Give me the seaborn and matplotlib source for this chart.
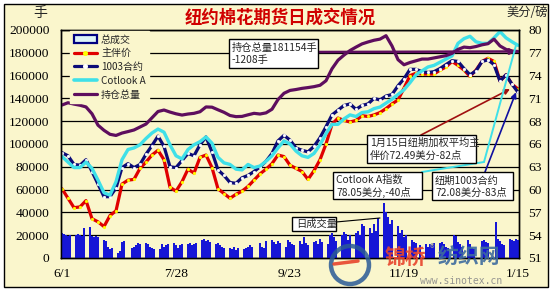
import numpy as np
import pandas as pd
import matplotlib
matplotlib.use("Agg")
import matplotlib.pyplot as plt
import seaborn as sns
from matplotlib.lines import Line2D
from matplotlib.patches import Rectangle, Patch, Circle

# ---------------- data ----------------
holidays = ["2009-07-03", "2009-09-07", "2009-11-26", "2009-12-25", "2010-01-01"]
trade_dates = pd.bdate_range("2009-06-01", "2010-01-15").difference(pd.to_datetime(holidays))

# daily total volume (thousand lots), one per trading day
volume_k = [
    22, 21, 20, 19, 20,   20, 21, 20, 19, 26,   27, 19, 18, 19, 18,   16, 15, 10, 8, 9,
    4, 6, 14, 15,
    9, 10, 11, 13, 12,    13, 12, 10, 9, 8,     8, 12, 10, 11, 12,    13, 11, 9, 11, 12,
    12, 13, 11, 12, 13,   16, 17, 15, 16, 14,   12, 13, 11, 10, 9,    9, 8, 10, 7, 9,
    8, 9, 10, 11, 10,
    13, 10, 9, 15,
    16, 14, 12, 15, 13,   10, 16, 14, 12, 11,   15, 12, 18, 13, 11,
    14, 15, 12, 17, 14,   12, 20, 22, 18, 15,   20, 23, 21, 16, 20,   22, 24, 20, 30, 28,
    26, 22, 30, 24, 35,   48, 40, 36, 30, 33,   28, 22, 25, 18, 20,
    16, 14, 13, 11,
    12, 10, 12, 11, 13,   13, 14, 12, 10, 9,    20, 19, 14, 12, 10,
    16, 12, 9, 8,
    15, 16, 14, 13,
    32, 17, 15, 12, 11,   17, 16, 15, 17, 16,
]

# price / open-interest series sampled every 3 calendar days from 6/1 to 1/15
price_dates = pd.date_range("2009-06-01", "2010-01-15", freq="3D")

cotlook_a = [
    63.9, 63.2, 62.5, 62.5, 63.2, 62.4, 60.9, 59.3, 59.0, 60.7,
    63.5, 64.8, 65.0, 65.4, 66.2, 66.9, 67.4, 67.0, 65.4, 64.0,
    63.6, 64.8, 65.4, 65.8, 66.4, 65.6, 63.8, 63.1, 62.9, 62.3,
    62.2, 62.9, 62.5, 62.7, 63.3, 64.0, 65.0, 65.9, 65.5, 64.6,
    64.0, 63.8, 64.3, 65.4, 66.8, 68.0, 68.0, 68.7, 69.2, 69.0,
    69.5, 69.6, 70.0, 70.2, 70.7, 71.2, 71.8, 72.4, 73.3, 74.3,
    74.8, 75.3, 75.5, 75.9, 76.3, 76.7, 78.3, 78.9, 79.2, 78.5,
    78.3, 78.3, 79.0, 79.8, 79.0, 78.5, 78.05,
]

contract_1003 = [
    64.4, 64.0, 62.9, 62.8, 63.5, 62.0, 60.4, 58.8, 58.8, 59.9,
    62.5, 63.0, 62.5, 62.9, 64.2, 65.3, 66.5, 65.2, 62.6, 62.5,
    63.4, 64.3, 64.0, 65.4, 66.4, 64.5, 62.2, 61.5, 60.6, 60.5,
    61.2, 61.5, 62.0, 62.6, 63.3, 64.3, 65.9, 66.6, 66.0, 65.0,
    64.7, 64.5, 65.2, 66.3, 67.7, 69.2, 69.8, 70.4, 70.6, 69.9,
    70.4, 70.6, 71.3, 71.1, 71.6, 71.8, 72.9, 73.8, 75.0, 75.0,
    74.7, 74.6, 74.7, 75.1, 75.6, 76.1, 76.0, 75.1, 74.3, 74.8,
    76.0, 76.2, 75.6, 73.5, 74.3, 73.1, 72.08,
]

main_price = [
    59.8, 58.6, 57.4, 57.5, 58.3, 56.0, 55.6, 55.0, 56.4, 57.0,
    60.4, 60.9, 61.0, 62.4, 63.2, 64.1, 64.7, 63.5, 60.0, 59.5,
    60.7, 62.3, 61.8, 63.8, 64.1, 62.5, 59.8, 59.2, 58.6, 59.1,
    59.5, 60.1, 60.9, 61.7, 62.3, 63.0, 64.1, 63.9, 62.8, 62.4,
    62.0, 61.0, 62.1, 63.5, 65.5, 68.0, 68.8, 68.5, 68.3, 68.5,
    69.1, 69.0, 69.2, 69.5, 70.0, 70.6, 71.1, 72.6, 74.2, 74.5,
    74.4, 74.4, 74.4, 74.9, 75.3, 76.0, 75.5, 74.9, 74.1, 74.9,
    76.0, 76.4, 76.0, 73.5, 74.3, 73.1, 72.49,
]

open_interest_k = [
    134.2, 136.2, 135.0, 134.0, 132.5, 126.5, 116.5, 112.0, 108.5, 107.5,
    109.6, 110.9, 112.3, 114.9, 117.5, 123.0, 128.5, 129.8, 128.0, 126.5,
    125.4, 126.3, 126.9, 128.3, 132.5, 132.3, 130.0, 127.8, 125.0, 124.0,
    124.2, 125.6, 126.9, 126.3, 127.3, 130.5, 139.0, 144.5, 147.0, 147.8,
    148.8, 149.5, 150.3, 151.5, 155.5, 166.0, 173.5, 178.0, 182.0, 185.0,
    187.8, 189.5, 191.0, 192.0, 195.0, 186.0, 174.0, 169.5, 171.5, 173.0,
    174.5, 174.5, 175.5, 176.5, 177.5, 179.5, 183.0, 185.0, 184.5, 185.5,
    187.0, 188.0, 192.0, 186.0, 183.0, 181.5, 181.154,
]

legend_labels = ["总成交", "主伴价", "1003合约", "Cotlook A", "持仓总量"]
xtick_dates = ["2009-06-01", "2009-07-28", "2009-09-23", "2009-11-19", "2010-01-15"]
xtick_labels = ["6/1", "7/28", "9/23", "11/19", "1/15"]
left_ticks = list(range(0, 200001, 20000))
right_tick_labels = ["51", "54", "57", "60", "63", "66", "68", "71", "74", "77", "80"]

# ---------------- style ----------------
sns.set_theme(style="white")
plt.rcParams["font.family"] = ["Noto Sans CJK SC", "DejaVu Sans"]

W, H = 555, 290
def fx(x):
    return x / W
def fy(y):
    return 1 - y / H

bg = "#FAF6CC"
c_red = "#E00000"
c_navy = "#0C0C78"
c_cyan = "#3FE0E8"
c_purple = "#5E0E5E"
c_bar = "#1616D6"

start = pd.Timestamp("2009-06-01")
trade_x = np.array((trade_dates - start).days)
price_x = np.array((price_dates - start).days)
vol = np.array(volume_k) * 1000
oi = np.array(open_interest_k) * 1000

fig = plt.figure(figsize=(W / 100, H / 100), dpi=100)
fig.patch.set_facecolor("white")
fig.add_artist(Rectangle((fx(4), fy(287)), fx(548) - fx(4), fy(4) - fy(287),
                         transform=fig.transFigure, facecolor=bg, edgecolor="black",
                         lw=1, zorder=-10))

ax = fig.add_axes([fx(61), fy(258), fx(519) - fx(61), fy(30) - fy(258)])
ax2 = ax.twinx()
ax.set_zorder(2)
ax2.set_zorder(1)
ax.patch.set_visible(False)
ax2.patch.set_visible(True)
ax2.patch.set_facecolor(bg)

# price lines (right axis, bottom layer)
sns.lineplot(x=price_x, y=main_price, ax=ax2, color=c_red, lw=2.3, sort=False,
             marker="o", markersize=2.1, markerfacecolor="#FFFF00",
             markeredgecolor="#FFFF00", markeredgewidth=0.2)
sns.lineplot(x=price_x, y=contract_1003, ax=ax2, color=c_navy, lw=2.3, sort=False,
             marker="o", markersize=2.1, markerfacecolor="white",
             markeredgecolor="white", markeredgewidth=0.2)
sns.lineplot(x=price_x, y=cotlook_a, ax=ax2, color=c_cyan, lw=2.4, sort=False)

# volume bars and open interest (left axis, top layer)
sns.barplot(x=trade_x, y=vol, ax=ax, native_scale=True, color=c_bar, width=1.0,
            linewidth=0, saturation=1, errorbar=None)
sns.lineplot(x=price_x, y=oi, ax=ax, color=c_purple, lw=2.3, sort=False)

ax.set_xlim(-0.5, 228.5)
ax.set_ylim(0, 200000)
ax2.set_ylim(51, 80)
ax.set_yticks(left_ticks)
ax.set_yticklabels([str(v) for v in left_ticks])
ax2.set_yticks(np.linspace(51, 80, 11))
ax2.set_yticklabels(right_tick_labels)
xt = np.array((pd.to_datetime(xtick_dates) - start).days)
ax.set_xticks(xt)
ax.set_xticklabels(xtick_labels)
ax.set_xlabel("")
ax.set_ylabel("")
ax2.set_ylabel("")

ax2.grid(axis="y", color="black", lw=0.9)
ax2.set_axisbelow(True)
ax.grid(False)

ax.tick_params(axis="y", length=0, pad=8.3, labelsize=9.7)
ax.tick_params(axis="x", length=0, pad=7.5, labelsize=9.7)
ax2.tick_params(axis="y", length=0, pad=6.5, labelsize=9.7)
for lbl in ax.get_yticklabels() + ax.get_xticklabels() + ax2.get_yticklabels():
    lbl.set_fontfamily("Liberation Serif")
    lbl.set_color("black")
for a in (ax, ax2):
    for s in a.spines.values():
        s.set_color("black")
        s.set_linewidth(1)

# legend
handles = [
    Patch(facecolor="#DDF4F8", edgecolor="#000080", linewidth=1.6),
    Line2D([], [], color=c_red, lw=2.3, marker="o", ms=2.6, mfc="#FFFF00", mec="#FFFF00"),
    Line2D([], [], color=c_navy, lw=2.3, marker="o", ms=2.6, mfc="white", mec="white"),
    Line2D([], [], color=c_cyan, lw=2.6),
    Line2D([], [], color=c_purple, lw=2.3),
]
leg = ax.legend(handles, legend_labels, loc="upper left",
                bbox_to_anchor=(fx(70), fy(31)), bbox_transform=fig.transFigure,
                frameon=True, fancybox=False, facecolor=bg, edgecolor=bg, framealpha=1,
                prop={"family": ["Noto Sans CJK SC", "DejaVu Sans"], "size": 7.2},
                handlelength=2.3, handleheight=0.8, labelspacing=0.38, borderpad=0.35,
                borderaxespad=0, handletextpad=0.45)
leg.set_zorder(20)

# titles
fig.text(fx(280), fy(18), "纽约棉花期货日成交情况", ha="center", va="center",
         color="#D00000", fontsize=12.5, fontweight="bold")
fig.text(fx(40), fy(13), "手", ha="center", va="center", fontsize=10)
fig.text(fx(527), fy(13), "美分/磅", ha="center", va="center", fontsize=8.8)

# annotation boxes
def box(x0, y0, x1, y1, lines, ys, xpad=3, fs=7.4):
    fig.add_artist(Rectangle((fx(x0), fy(y1)), fx(x1) - fx(x0), fy(y0) - fy(y1),
                             transform=fig.transFigure, facecolor="white",
                             edgecolor="black", lw=1, zorder=30))
    for t, yy in zip(lines, ys):
        fig.text(fx(x0 + xpad), fy(yy), t, ha="left", va="center", fontsize=fs,
                 zorder=31)

box(229, 39, 318, 68, ["持仓总量181154手", "-1208手"], [47.5, 60.5])
box(367, 135, 476, 163, ["1月15日纽期加权平均主", "伴价72.49美分-82点"], [143, 156])
box(333, 172, 422, 199, ["Cotlook A指数", "78.05美分,-40点"], [180, 192.5])
box(432, 172, 513, 200, ["纽期1003合约", "72.08美分-83点"], [180.5, 193])
box(292, 217, 336, 231, ["日成交量"], [224], xpad=4)

last_x = price_x[-1]
ax.annotate("", xy=(last_x - 1, oi[-1]), xycoords="data",
            xytext=(318, H - 52), textcoords="figure pixels",
            arrowprops=dict(arrowstyle="-|>", color=c_purple, lw=1.8,
                            mutation_scale=8, shrinkA=0, shrinkB=0),
            annotation_clip=False, zorder=25)
ax.annotate("", xy=(last_x - 4, main_price[-1]), xycoords=ax2.transData,
            xytext=(421, H - 135), textcoords="figure pixels",
            arrowprops=dict(arrowstyle="-|>", color="#A01010", lw=1.2,
                            mutation_scale=8, shrinkA=0, shrinkB=0),
            annotation_clip=False, zorder=25)
fig.add_artist(Line2D([fx(422), fx(484)], [fy(172), fy(162)], color=c_cyan,
                      lw=1.4, transform=fig.transFigure, zorder=25))
ax.annotate("", xy=(last_x - 1, cotlook_a[-1]), xycoords=ax2.transData,
            xytext=(484, H - 162), textcoords="figure pixels",
            arrowprops=dict(arrowstyle="-", color=c_cyan, lw=1.4, shrinkA=0, shrinkB=0),
            annotation_clip=False, zorder=25)
ax.annotate("", xy=(last_x - 1, contract_1003[-1]), xycoords=ax2.transData,
            xytext=(485, H - 172), textcoords="figure pixels",
            arrowprops=dict(arrowstyle="-|>", color="#1010A0", lw=1.2,
                            mutation_scale=8, shrinkA=0, shrinkB=0),
            annotation_clip=False, zorder=25)
fig.add_artist(Line2D([fx(336), fx(380)], [fy(222), fy(218)], color="black",
                      lw=0.8, transform=fig.transFigure, zorder=25))

# watermark
fig.add_artist(Circle((3.50, 0.25), 0.19, transform=fig.dpi_scale_trans, fill=False,
                      ec="#2A5A96", lw=3.2, alpha=0.85, zorder=40))
fig.add_artist(Line2D([fx(334), fx(358)], [fy(264), fy(261)], color="#E8452C", lw=2.5,
                      alpha=0.9, transform=fig.transFigure, zorder=41))
fig.text(fx(385), fy(257), "锦桥", ha="left", va="center", color="#E8452C",
         fontsize=15, fontweight="bold", alpha=0.9, zorder=42)
fig.text(fx(430), fy(249), "®", ha="left", va="center", color="#9A9A9A",
         fontsize=7, zorder=42)
fig.text(fx(438), fy(257), "纺织网", ha="left", va="center", color="#3E6C9E",
         fontsize=15, fontweight="bold", alpha=0.9, zorder=42)
fig.text(fx(420), fy(281), "www.sinotex.cn", ha="left", va="center", color="#8A8A8A",
         fontsize=7, family="DejaVu Sans Mono", alpha=0.9, zorder=42)

fig.savefig("out.png", dpi=100, facecolor=fig.get_facecolor())
